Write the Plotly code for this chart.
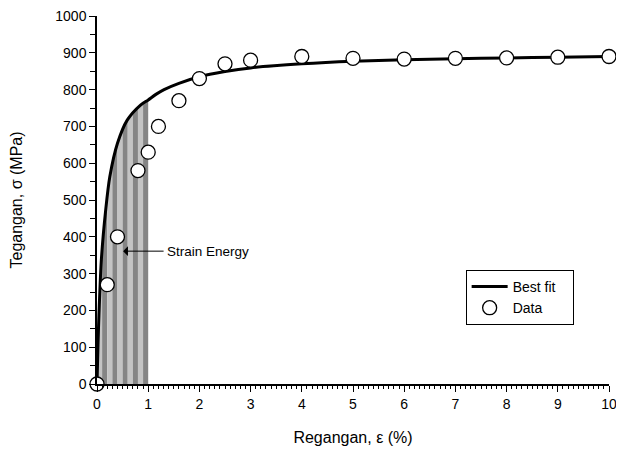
import numpy as np
import plotly.graph_objects as go

# Measured data points
data_strain = [0, 0.2, 0.4, 0.8, 1.0, 1.2, 1.6, 2.0, 2.5, 3.0, 4.0, 5.0, 6.0, 7.0, 8.0, 9.0, 10.0]
data_stress = [0, 270, 400, 580, 630, 700, 770, 830, 870, 880, 890, 885, 883, 885, 886, 888, 890]

# Best-fit curve
fit_strain = [0, 0.01, 0.03, 0.085, 0.17, 0.25, 0.4, 0.59, 0.85, 1.0, 1.15, 1.31,
              1.6, 2.0, 2.5, 3.0, 4.0, 5.0, 6.0, 7.0, 8.0, 9.0, 10.0]
fit_stress = [0, 55, 156, 337, 473, 563, 654, 717, 758, 772, 787, 800,
              817, 835, 849, 859, 870, 877, 881, 884, 886, 888, 890]

# Strain energy shading: stripe edges along strain
stripe_edges = [0, 0.1, 0.2, 0.3, 0.4, 0.5, 0.6, 0.7, 0.8, 0.9, 1.0]
stripe_colors = ["#c4c4c4", "#858585"]

x_ticks = list(range(0, 11))
y_ticks = list(range(0, 1001, 100))

fig = go.Figure()

for i in range(len(stripe_edges) - 1):
    a, b = stripe_edges[i], stripe_edges[i + 1]
    xs = [a] + [v for v in fit_strain if a < v < b] + [b]
    ys = list(np.interp(xs, fit_strain, fit_stress))
    fig.add_trace(go.Scatter(
        x=[a] + xs + [b], y=[0] + ys + [0], mode="lines", fill="toself",
        fillcolor=stripe_colors[i % 2], line=dict(width=0), showlegend=False,
        hoverinfo="skip"))

fig.add_trace(go.Scatter(
    x=fit_strain, y=fit_stress, mode="lines", name="Best fit\u00a0\u00a0\u00a0",
    line=dict(color="black", width=3, shape="spline", smoothing=0.8)))

fig.add_trace(go.Scatter(
    x=data_strain, y=data_stress, mode="markers", name="Data", cliponaxis=False,
    marker=dict(symbol="circle", size=14, color="white",
                line=dict(color="black", width=1.3))))

fig.add_annotation(x=0.51, y=361, ax=1.33, ay=361, axref="x", ayref="y",
                   text="", showarrow=True, arrowhead=1, arrowsize=1.6,
                   arrowwidth=1, arrowcolor="black")
fig.add_annotation(x=1.33, y=361, text="Strain Energy", showarrow=False,
                   xanchor="left", yanchor="middle",
                   font=dict(size=13.5, color="black"))

font_family = "Liberation Sans, Arial, sans-serif"
fig.update_layout(
    width=616, height=448,
    margin=dict(l=89, r=15, t=8, b=72),
    paper_bgcolor="white", plot_bgcolor="white",
    font=dict(family=font_family, size=14, color="black"),
    showlegend=True,
    legend=dict(x=0.72, y=0.31, xanchor="left", yanchor="top",
                bordercolor="black", borderwidth=1, bgcolor="white",
                font=dict(size=14), tracegroupgap=0, itemwidth=36),
    xaxis=dict(range=[0, 10], tickvals=x_ticks, ticktext=[str(v) for v in x_ticks],
               automargin=False, ticklabeloverflow="allow",
               showgrid=False, zeroline=False, showline=True, linecolor="black",
               linewidth=1.5, ticks="outside", ticklen=6, tickwidth=1.2,
               tickcolor="black", tickfont=dict(size=14),
               minor=dict(dtick=0.1, ticks="outside", ticklen=3, tickcolor="black",
                          tickwidth=1, showgrid=False),
               title=dict(text="Regangan, ε (%)", standoff=21, font=dict(size=16))),
    yaxis=dict(range=[0, 1000], tickvals=y_ticks, ticktext=[str(v) for v in y_ticks],
               automargin=False, ticklabeloverflow="allow",
               showgrid=False, zeroline=False, showline=True, linecolor="black",
               linewidth=1.5, ticks="outside", ticklen=6, tickwidth=1.2,
               tickcolor="black", tickfont=dict(size=14),
               minor=dict(dtick=50, ticks="outside", ticklen=5, tickcolor="black",
                          tickwidth=1, showgrid=False),
               title=dict(text="Tegangan, σ (MPa)", standoff=30, font=dict(size=16))),
)

fig.write_html("out.html")
